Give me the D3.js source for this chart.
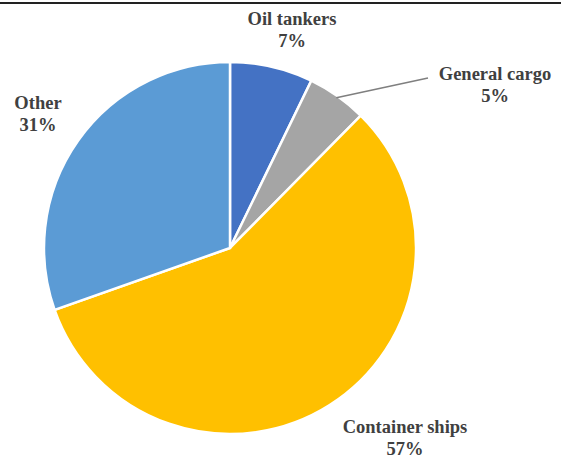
<!DOCTYPE html>
<html lang="en">
<head>
<meta charset="UTF-8">
<title>Share by ship type</title>
<script src="https://d3js.org/d3.v7.min.js"></script>
<style>
  body { margin: 0; background: #fff; }
  .lbl { font-family: "Liberation Serif", "Times New Roman", serif; font-weight: bold; font-size: 18.5px; fill: #404040; }
</style>
</head>
<body>
<div id="chart"></div>
<script>
    // Data
    const categories = ["Oil tankers", "General cargo", "Container ships", "Other"];
    const shares = [7.2, 5.2, 57.2, 30.4];
    const shareLabels = ["7%", "5%", "57%", "31%"];
    const colors = ["#4472C4", "#A5A5A5", "#FFC000", "#5B9BD5"];

    const width = 561, height = 459;
    const cx = 230, cy = 248, radius = 186;

    const svg = d3.select("#chart").append("svg")
        .attr("width", width)
        .attr("height", height);

    // frame line at the top
    svg.append("line")
        .attr("x1", 0).attr("x2", width)
        .attr("y1", 3).attr("y2", 3)
        .attr("stroke", "#222").attr("stroke-width", 2);

    const data = categories.map((c, i) => ({ name: c, value: shares[i], label: shareLabels[i], color: colors[i] }));

    const pie = d3.pie().value(d => d.value).sort(null);
    const arc = d3.arc().innerRadius(0).outerRadius(radius);

    const g = svg.append("g").attr("transform", `translate(${cx},${cy})`);

    const arcs = pie(data);
    g.selectAll("path")
        .data(arcs)
        .enter()
        .append("path")
        .attr("d", arc)
        .attr("fill", d => d.data.color)
        .attr("stroke", "#fff")
        .attr("stroke-width", 2.5);

    // leader line for General cargo
    const gc = arcs[1];
    const mid = (gc.startAngle + gc.endAngle) / 2;
    const r0 = radius * 0.99;
    g.append("line")
        .attr("x1", Math.sin(mid) * r0)
        .attr("y1", -Math.cos(mid) * r0)
        .attr("x2", 428 - cx)
        .attr("y2", 78 - cy)
        .attr("stroke", "#7f7f7f")
        .attr("stroke-width", 1.5);

    // label positions (absolute): oil, general, container, other
    const labelPos = [[292, 25], [495, 80], [405, 433], [38, 109]];

    data.forEach((d, i) => {
        const t = svg.append("text")
            .attr("class", "lbl")
            .attr("text-anchor", "middle")
            .attr("x", labelPos[i][0])
            .attr("y", labelPos[i][1]);
        t.append("tspan").attr("x", labelPos[i][0]).text(d.name);
        t.append("tspan").attr("x", labelPos[i][0]).attr("dy", 22).text(d.label);
    });
</script>
</body>
</html>
